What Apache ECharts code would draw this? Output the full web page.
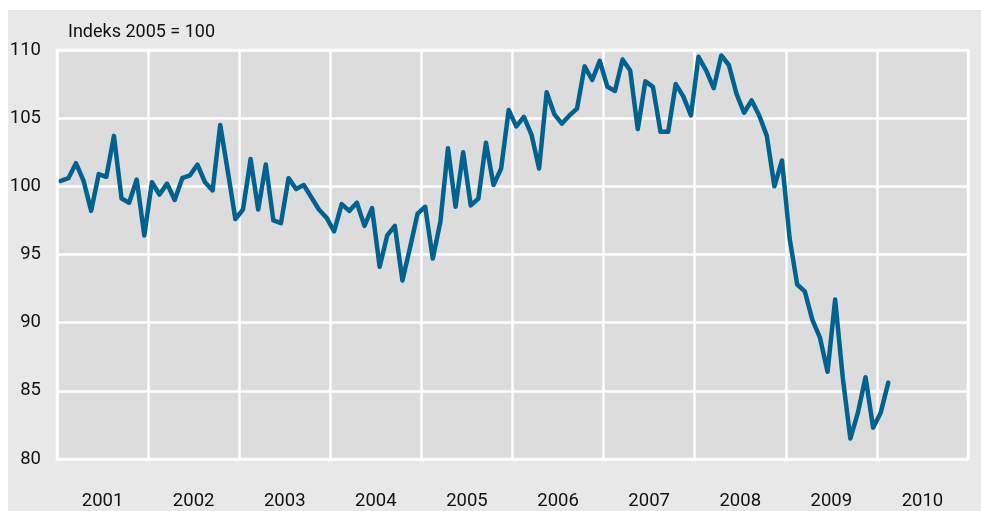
<!DOCTYPE html>
<html>
<head>
<meta charset="utf-8">
<script src="https://cdn.jsdelivr.net/npm/echarts@6/dist/echarts.min.js"></script>
<style>
html,body{margin:0;padding:0;background:#fff;}
#c{width:981px;height:511px;}
</style>
</head>
<body>
<div id="c"></div>
<script>
// Tick labels / categories
const years = ['2001','2002','2003','2004','2005','2006','2007','2008','2009','2010'];
const yTicks = [80, 85, 90, 95, 100, 105, 110];
const unitLabel = 'Indeks 2005 = 100';

// Monthly index values (Jan..Dec)
const v2001 = [100.4, 100.6, 101.7, 100.4, 98.2, 100.9, 100.7, 103.7, 99.1, 98.8, 100.5, 96.4];
const v2002 = [100.3, 99.4, 100.2, 99.0, 100.6, 100.8, 101.6, 100.3, 99.7, 104.5, 101.1, 97.6];
const v2003 = [98.3, 102.0, 98.3, 101.6, 97.5, 97.3, 100.6, 99.8, 100.1, 99.2, 98.3, 97.7];
const v2004 = [96.7, 98.7, 98.2, 98.8, 97.1, 98.4, 94.1, 96.4, 97.1, 93.1, 95.5, 98.0];
const v2005 = [98.5, 94.7, 97.4, 102.8, 98.5, 102.5, 98.6, 99.1, 103.2, 100.1, 101.3, 105.6];
const v2006 = [104.4, 105.1, 103.8, 101.3, 106.9, 105.3, 104.6, 105.2, 105.7, 108.8, 107.8, 109.2];
const v2007 = [107.3, 107.0, 109.3, 108.5, 104.2, 107.7, 107.3, 104.0, 104.0, 107.5, 106.6, 105.2];
const v2008 = [109.5, 108.5, 107.2, 109.6, 108.9, 106.8, 105.4, 106.3, 105.2, 103.7, 100.0, 101.9];
const v2009 = [96.2, 92.8, 92.3, 90.2, 88.9, 86.4, 91.7, 86.0, 81.5, 83.4, 86.0, 82.3];
const v2010 = [83.4, 85.6];

const values = [].concat(v2001, v2002, v2003, v2004, v2005, v2006, v2007, v2008, v2009, v2010);
const months = [];
years.forEach(y => { for (let m = 1; m <= 12; m++) months.push(y + '-' + (m < 10 ? '0' + m : m)); });

const FONT = 'Roboto';
const TXT = '#111111';
const chart = echarts.init(document.getElementById('c'), null, {renderer: 'canvas'});
chart.setOption({
  animation: false,
  backgroundColor: '#ffffff',
  graphic: [{
    type: 'rect', z: -10, silent: true,
    shape: {x: 8, y: 10, width: 973, height: 501},
    style: {fill: '#e8e8e8'}
  }],
  title: {
    text: unitLabel, left: 63, top: 18,
    textStyle: {fontFamily: FONT, fontSize: 18, fontWeight: 'normal', color: TXT}
  },
  grid: {
    left: 57, right: 13, top: 50, bottom: 47,
    show: true, backgroundColor: '#dcdcdc', borderColor: '#ffffff', borderWidth: 2.5
  },
  xAxis: [{
    type: 'category', data: months, boundaryGap: true,
    axisLine: {show: false}, axisTick: {show: false}, axisLabel: {show: false},
    splitLine: {show: true, interval: (i) => i % 12 === 0, lineStyle: {color: '#ffffff', width: 2.5}}
  }, {
    type: 'category', data: years, boundaryGap: true, position: 'bottom',
    axisLine: {show: false}, axisTick: {show: false}, splitLine: {show: false},
    axisLabel: {margin: 33, fontFamily: FONT, fontSize: 18.5, color: TXT}
  }],
  yAxis: {
    type: 'value', min: yTicks[0], max: yTicks[yTicks.length - 1], interval: 5,
    axisLine: {show: false}, axisTick: {show: false},
    axisLabel: {margin: 16, fontFamily: FONT, fontSize: 18.5, color: TXT},
    splitLine: {show: true, lineStyle: {color: '#ffffff', width: 2.5}}
  },
  series: [{
    type: 'line', data: values, xAxisIndex: 0, showSymbol: false, symbol: 'none',
    lineStyle: {color: '#00628f', width: 4.5, join: 'round', cap: 'round'}
  }]
});
</script>
</body>
</html>
